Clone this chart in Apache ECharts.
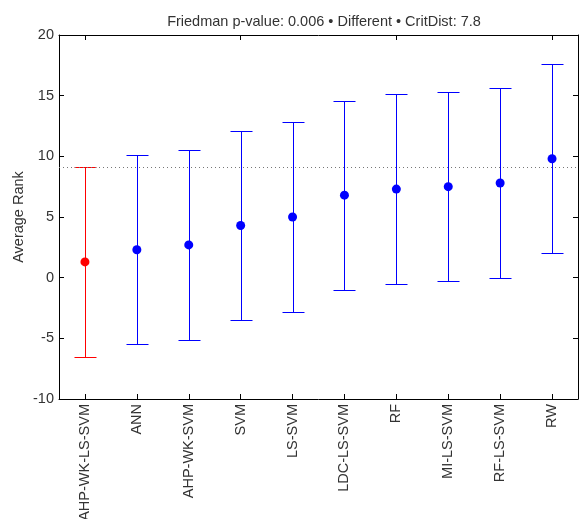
<!DOCTYPE html>
<html>
<head>
<meta charset="utf-8">
<script src="https://cdn.jsdelivr.net/npm/echarts@6/dist/echarts.min.js"></script>
<style>
  html, body { margin: 0; padding: 0; background: #fff; }
  #main { width: 580px; height: 519px; }
</style>
</head>
<body>
<div id="main"></div>
<script>
var methods = ['AHP-WK-LS-SVM', 'ANN', 'AHP-WK-SVM', 'SVM', 'LS-SVM', 'LDC-LS-SVM', 'RF', 'MI-LS-SVM', 'RF-LS-SVM', 'RW'];
var meanRank = [1.3, 2.3, 2.7, 4.3, 5.0, 6.8, 7.3, 7.5, 7.8, 9.8];
var lowerRank = [-6.5, -5.5, -5.1, -3.5, -2.8, -1.0, -0.5, -0.3, 0.0, 2.0];
var upperRank = [9.1, 10.1, 10.5, 12.1, 12.8, 14.6, 15.1, 15.3, 15.6, 17.6];
var critLine = 9.1;

var myChart = echarts.init(document.getElementById('main'));

function barColor(i) {
    return i === 0 ? '#ff0000' : '#0000ff';
}

var barData = [];
var meanData = [];
for (var i = 0; i < methods.length; i++) {
    barData.push({ value: [i, lowerRank[i], upperRank[i]], itemStyle: { color: barColor(i) } });
    meanData.push({ value: [i, meanRank[i]], itemStyle: { color: barColor(i), opacity: 1 } });
}

function renderBar(params, api) {
    var x = api.value(0);
    var lo = api.coord([x, api.value(1)]);
    var hi = api.coord([x, api.value(2)]);
    var cx = Math.round(lo[0]) + 0.5;
    var ylo = Math.round(lo[1]) + 0.5;
    var yhi = Math.round(hi[1]) + 0.5;
    var half = 11;
    var c = barColor(params.dataIndex);
    return {
        type: 'group',
        children: [
            { type: 'line', shape: { x1: cx, y1: yhi, x2: cx, y2: ylo }, style: { stroke: c, lineWidth: 1 } },
            { type: 'line', shape: { x1: cx - half, y1: yhi, x2: cx + half, y2: yhi }, style: { stroke: c, lineWidth: 1 } },
            { type: 'line', shape: { x1: cx - half, y1: ylo, x2: cx + half, y2: ylo }, style: { stroke: c, lineWidth: 1 } }
        ]
    };
}

var font = 'Liberation Sans, Arial, sans-serif';
var axisLine = { show: true, onZero: false, lineStyle: { color: '#000', width: 1 } };
var tick = { show: true, inside: true, length: 5, lineStyle: { color: '#000' } };

option = {
    animation: false,
    backgroundColor: '#fff',
    textStyle: { fontFamily: font },
    title: {
        text: 'Friedman p-value: 0.006 \u2022 Different \u2022 CritDist: 7.8',
        left: 319,
        textAlign: 'center',
        top: 9,
        textStyle: { fontSize: 14.5, fontWeight: 'normal', color: '#333', fontFamily: font }
    },
    grid: { left: 59, right: 2, top: 35, bottom: 120, containLabel: false, outerBoundsMode: 'none' },
    xAxis: [
        {
            type: 'category',
            data: methods,
            position: 'bottom',
            boundaryGap: true,
            axisLine: axisLine,
            axisTick: { show: true, inside: true, alignWithLabel: true, length: 5, lineStyle: { color: '#000' } },
            axisLabel: { rotate: 90, fontSize: 14.5, color: '#333', margin: 5, interval: 0, fontFamily: font },
            splitLine: { show: false }
        },
        {
            type: 'category',
            data: methods,
            position: 'top',
            boundaryGap: true,
            axisLine: axisLine,
            axisTick: { show: true, inside: true, alignWithLabel: true, length: 5, lineStyle: { color: '#000' } },
            axisLabel: { show: false },
            splitLine: { show: false }
        }
    ],
    yAxis: [
        {
            type: 'value',
            min: -10,
            max: 20,
            interval: 5,
            position: 'left',
            name: 'Average Rank',
            nameLocation: 'middle',
            nameGap: 33,
            nameMoveOverlap: false,
            nameTextStyle: { fontSize: 14.5, color: '#333', fontFamily: font },
            axisLine: axisLine,
            axisTick: tick,
            axisLabel: { fontSize: 14.5, color: '#333', margin: 5, fontFamily: font },
            splitLine: { show: false }
        },
        {
            type: 'value',
            min: -10,
            max: 20,
            interval: 5,
            position: 'right',
            axisLine: axisLine,
            axisTick: tick,
            axisLabel: { show: false },
            splitLine: { show: false }
        }
    ],
    series: [
        {
            type: 'custom',
            renderItem: renderBar,
            data: barData,
            encode: { x: 0, y: [1, 2] },
            z: 2
        },
        {
            type: 'scatter',
            data: meanData,
            symbol: 'circle',
            symbolSize: 9,
            z: 3,
            markLine: {
                silent: true,
                symbol: ['none', 'none'],
                label: { show: false },
                lineStyle: { color: '#777', type: [1, 3], width: 1 },
                data: [{ yAxis: critLine }]
            }
        }
    ]
};

myChart.setOption(option);
</script>
</body>
</html>
